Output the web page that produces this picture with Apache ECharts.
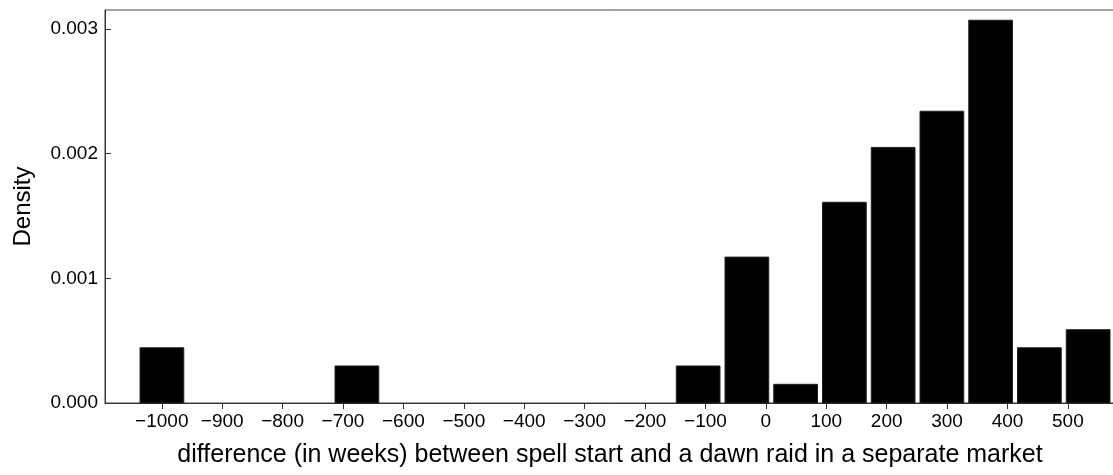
<!DOCTYPE html>
<html>
<head>
<meta charset="utf-8">
<script src="https://cdn.jsdelivr.net/npm/echarts@6/dist/echarts.min.js"></script>
<style>
html,body{margin:0;padding:0;background:#fff;}
#chart{width:1113px;height:475px;}
</style>
</head>
<body>
<div id="chart"></div>
<script>
// Histogram bin edges (weeks) and densities
const binEdges = [-1036, -955.3, -874.6, -793.9, -713.2, -632.5, -551.8, -471.1, -390.4, -309.7, -229, -148.3, -67.6, 13.1, 93.8, 174.5, 255.2, 335.9, 416.6, 497.3, 578];
const densities = [0.000443, 0, 0, 0, 0.000297, 0, 0, 0, 0, 0, 0, 0.000297, 0.00117, 0.00015, 0.00161, 0.00205, 0.00234, 0.00307, 0.000443, 0.000588];
const xTicks = [-1000, -900, -800, -700, -600, -500, -400, -300, -200, -100, 0, 100, 200, 300, 400, 500];
const yTicks = [0, 0.001, 0.002, 0.003];
const xTitle = 'difference (in weeks) between spell start and a dawn raid in a separate market';
const yTitle = 'Density';

const barData = [];
for (let i = 0; i < densities.length; i++) {
  if (densities[i] > 0) barData.push([binEdges[i], binEdges[i + 1], densities[i]]);
}

const FONT = '"Liberation Sans", Arial, Helvetica, sans-serif';
const chart = echarts.init(document.getElementById('chart'), null, {renderer: 'canvas'});
chart.setOption({
  animation: false,
  backgroundColor: '#fff',
  grid: {
    left: 105, top: 10, width: 1010, height: 393,
    show: true, borderColor: '#444', borderWidth: 1,
    containLabel: false, outerBoundsMode: 'none'
  },
  xAxis: {
    type: 'value', min: -1094, max: 578,
    name: xTitle, nameLocation: 'middle', nameGap: 40,
    nameTextStyle: {fontFamily: FONT, fontSize: 25, color: '#000'},
    axisLine: {show: true, onZero: false, lineStyle: {color: '#333', width: 1}},
    axisTick: {show: true, length: 6, lineStyle: {color: '#333'}, customValues: xTicks},
    axisLabel: {
      show: true, margin: 9, fontFamily: FONT, fontSize: 19, color: '#000',
      customValues: xTicks,
      formatter: v => String(v).replace('-', '\u2212')
    },
    splitLine: {show: false}
  },
  yAxis: {
    type: 'value', min: 0, max: 0.003152,
    name: yTitle, nameLocation: 'middle', nameGap: 70,
    nameTextStyle: {fontFamily: FONT, fontSize: 24, color: '#000'},
    axisLine: {show: true, onZero: false, lineStyle: {color: '#333', width: 1}},
    axisTick: {show: true, inside: true, length: 6, lineStyle: {color: '#333'}, customValues: yTicks},
    axisLabel: {
      show: true, margin: 7, fontFamily: FONT, fontSize: 19, color: '#000',
      customValues: yTicks,
      formatter: v => v.toFixed(3)
    },
    splitLine: {show: false}
  },
  series: [{
    type: 'custom',
    data: barData,
    encode: {x: [0, 1], y: 2},
    clip: false,
    renderItem: function (params, api) {
      const p0 = api.coord([api.value(0), api.value(2)]);
      const p1 = api.coord([api.value(1), 0]);
      return {
        type: 'rect',
        shape: {x: p0[0], y: p0[1], width: p1[0] - p0[0] - 5, height: p1[1] - p0[1]},
        style: {fill: '#000', stroke: '#222', lineWidth: 1}
      };
    }
  }]
});
</script>
</body>
</html>
